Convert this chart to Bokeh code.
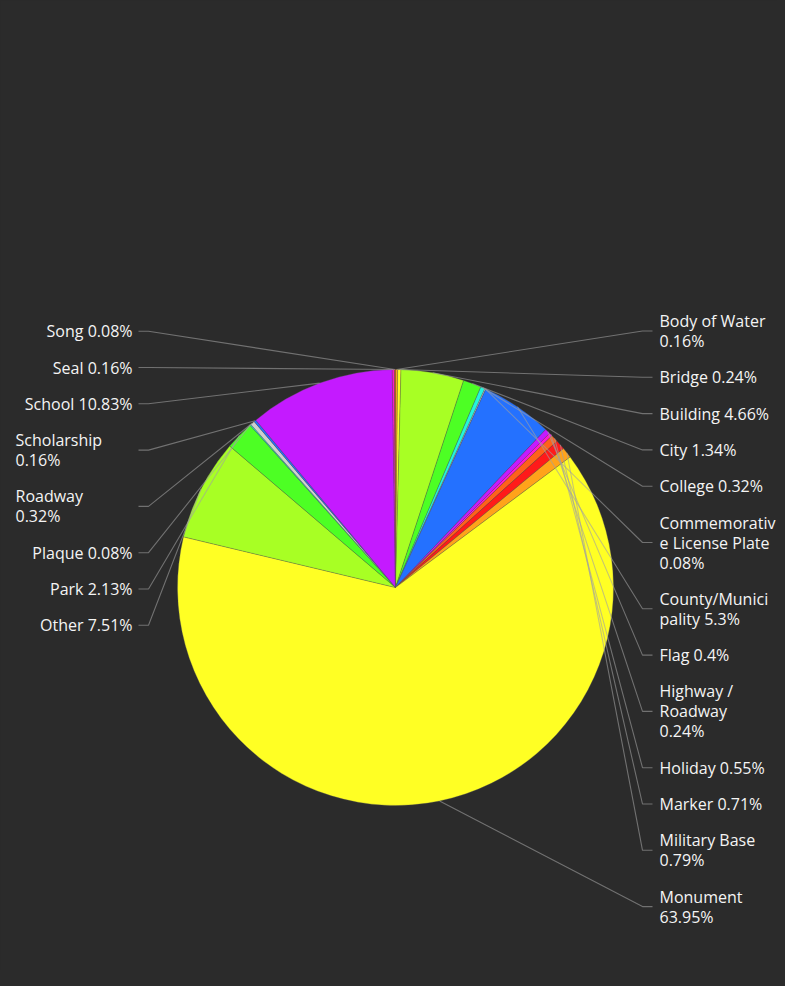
import numpy as np
from bokeh.plotting import figure
from bokeh.models import Range1d, ColumnDataSource
from bokeh.embed import file_html
from bokeh.resources import INLINE
from bokeh.core.properties import value

# ---------------- data ----------------
categories = ["Body of Water", "Bridge", "Building", "City", "College",
              "Commemorative License Plate", "County/Municipality", "Flag",
              "Highway / Roadway", "Holiday", "Marker", "Military Base",
              "Monument", "Other", "Park", "Plaque", "Roadway", "Scholarship",
              "School", "Seal", "Song"]
percent = [0.16, 0.24, 4.66, 1.34, 0.32, 0.08, 5.3, 0.4, 0.24, 0.55, 0.71,
           0.79, 63.95, 7.51, 2.13, 0.08, 0.32, 0.16, 10.83, 0.16, 0.08]
labels = ["Body of Water\n0.16%", "Bridge 0.24%", "Building 4.66%",
          "City 1.34%", "College 0.32%",
          "Commemorativ\ne License Plate\n0.08%",
          "County/Munici\npality 5.3%", "Flag 0.4%",
          "Highway /\nRoadway\n0.24%", "Holiday 0.55%", "Marker 0.71%",
          "Military Base\n0.79%", "Monument\n63.95%", "Other 7.51%",
          "Park 2.13%", "Plaque 0.08%", "Roadway\n0.32%",
          "Scholarship\n0.16%", "School 10.83%", "Seal 0.16%", "Song 0.08%"]
palette = ["#ffa31a", "#ffff24", "#a8ff24", "#4dff24", "#24f5dc", "#cfcfcf",
           "#2471ff", "#c41aff", "#ff1ad4", "#ff611a", "#ff1a1a"]

# ---------------- layout ----------------
W, H = 785, 986
FW, FH = 777, 970
BG = "#2b2b2b"
cx, cy, R = 395, 587, 218
LH, GAP = 20, 16.3
FONT = "Open Sans"
FSIZE = "16px"

def Y(ypx):
    return H - ypx

p = figure(width=FW, height=FH, output_backend="svg",
           toolbar_location=None, x_range=Range1d(0, FW),
           y_range=Range1d(H - FH, H), min_border=0)
p.axis.visible = False
p.grid.visible = False
p.outline_line_color = None
p.background_fill_color = BG
p.border_fill_color = BG

vals = np.array(percent, dtype=float)
frac = vals / vals.sum()
cum = np.concatenate([[0], np.cumsum(frac)])
theta0 = cum[:-1] * 2 * np.pi
theta1 = cum[1:] * 2 * np.pi
tmid = (theta0 + theta1) / 2
colors = [palette[i % len(palette)] for i in range(len(categories))]

src = ColumnDataSource(dict(start=np.pi / 2 - theta0, end=np.pi / 2 - theta1,
                            color=colors))
p.wedge(x=cx, y=Y(cy), radius=R, start_angle="start", end_angle="end",
        direction="clock", fill_color="color", line_color="#555555",
        line_alpha=0.45, line_width=0.7, source=src)

right = [i for i in range(len(categories)) if tmid[i] < np.pi]
left = [i for i in range(len(categories)) if tmid[i] >= np.pi][::-1]

xs, ys = [], []
tx, ty, tt, talign = [], [], [], []

def stack(idx, top, side):
    y = top
    for i in idx:
        lines = labels[i].split("\n")
        n = len(lines)
        center = y + LH * n / 2
        ex = cx + R * np.sin(tmid[i])
        ey = cy - R * np.cos(tmid[i])
        if side == "right":
            xs.append([ex, 642, 652])
            for k, ln in enumerate(lines):
                tx.append(659); ty.append(Y(y + LH * (k + 0.5))); tt.append(ln); talign.append("left")
        else:
            xs.append([ex, 148, 138])
            for k, ln in enumerate(lines):
                if n == 1:
                    tx.append(132); talign.append("right")
                else:
                    tx.append(15); talign.append("left")
                ty.append(Y(y + LH * (k + 0.5))); tt.append(ln)
        ys.append([Y(ey), Y(center), Y(center)])
        y += LH * n + GAP

stack(right, 310.5, "right")
stack(left, 320.7, "left")

p.multi_line(xs=xs, ys=ys, line_color="#a0a0a0", line_alpha=0.6, line_width=1.1)

tsrc = ColumnDataSource(dict(x=tx, y=ty, text=tt, align=talign))
p.text(x="x", y="y", text="text", text_align="align", text_baseline="middle",
       text_font=value(FONT), text_font_size=FSIZE, text_color="#f4f4f4",
       source=tsrc)

html = file_html(p, INLINE)
html = html.replace("</head>", "<style>body{background:%s;}</style></head>" % BG, 1)
open("out.html", "w").write(html)
